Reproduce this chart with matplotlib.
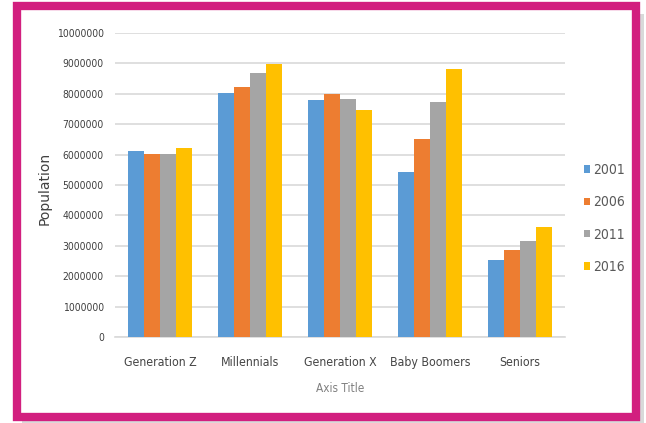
import numpy as np
import matplotlib
matplotlib.use('Agg')
import matplotlib.pyplot as plt
from matplotlib.patches import Rectangle

plt.rcParams['font.family'] = ['DejaVu Sans']
plt.rcParams['font.stretch'] = 'condensed'

# Population by generation and census year
categories = ['Generation Z', 'Millennials', 'Generation X', 'Baby Boomers', 'Seniors']
years = ['2001', '2006', '2011', '2016']
pop_2001 = [6130000, 8040000, 7800000, 5430000, 2520000]
pop_2006 = [6020000, 8210000, 8000000, 6500000, 2870000]
pop_2011 = [6020000, 8700000, 7830000, 7740000, 3170000]
pop_2016 = [6230000, 8980000, 7480000, 8830000, 3630000]
series = [pop_2001, pop_2006, pop_2011, pop_2016]
colors = ['#5B9BD5', '#ED7D31', '#A5A5A5', '#FFC000']

fig = plt.figure(figsize=(6.46, 4.23), dpi=100)

# magenta frame with a light shadow
fig.patches.append(Rectangle((22 / 646, 0.0), 622 / 646, 1 - 14 / 423,
                             transform=fig.transFigure, facecolor='#D9D9D9',
                             edgecolor='none', zorder=0))
fig.patches.append(Rectangle((16.5 / 646, 6.5 / 423), 619 / 646, 410 / 423,
                             transform=fig.transFigure, facecolor='white',
                             edgecolor='#D21F7F', linewidth=6, zorder=1))

ax = fig.add_axes([115 / 646, 1 - 337 / 423, 450 / 646, 304 / 423])
ax.set_zorder(2)
ax.patch.set_alpha(0)

x = np.arange(len(categories))
w = 0.18
for i, (vals, yr, c) in enumerate(zip(series, years, colors)):
    ax.bar(x + (i - 1.5) * w, vals, width=w, color=c, label=yr, zorder=3)

ax.set_xlim(-0.5, len(categories) - 0.5)
ax.set_ylim(0, 10000000)
ax.set_yticks(np.arange(0, 10000001, 1000000))
ax.set_yticklabels([str(v) for v in range(0, 10000001, 1000000)])
ax.yaxis.grid(True, color='#D9D9D9', linewidth=1.2, zorder=0)
ax.set_axisbelow(True)
for s in ['top', 'right', 'left']:
    ax.spines[s].set_visible(False)
ax.spines['bottom'].set_color('#D9D9D9')
ax.spines['bottom'].set_linewidth(1.2)
ax.tick_params(axis='both', length=0)
ax.tick_params(axis='y', labelsize=7.5, labelcolor='#404040', pad=8)
ax.set_xticks(x)
ax.set_xticklabels(categories, fontsize=8.8, color='#454545')
ax.tick_params(axis='x', pad=14)

ax.set_xlabel('Axis Title', fontsize=8.5, color='#808080', labelpad=9)
ax.set_ylabel('Population', fontsize=10, color='#404040', fontstretch='normal')
ax.yaxis.set_label_coords(-0.14, 0.49)

leg = ax.legend(loc='center left', bbox_to_anchor=(1.026, 0.39), frameon=False,
                fontsize=10, handlelength=0.45, handleheight=0.45,
                handletextpad=0.2, labelspacing=1.32, borderpad=0)
for t in leg.get_texts():
    t.set_color('#595959')

fig.savefig('out.png', dpi=100)
